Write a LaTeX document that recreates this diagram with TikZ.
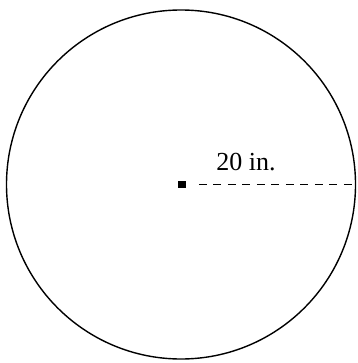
\documentclass[tikz,border=0pt]{standalone}
\usepackage{fontspec}
\setmainfont{Liberation Serif}
\begin{document}
\begin{tikzpicture}[x=1pt,y=-1pt,
  rim/.style={draw=black,line width=1.4pt},
  centerdot/.style={fill=black,minimum size=7.5pt,inner sep=0pt},
  radius line/.style={line width=1.8pt,dash pattern=on 8pt off 6.5pt},
  lbl/.style={font=\fontsize{26}{30}\selectfont,inner sep=0pt}]
\useasboundingbox (0,0) rectangle (357,363);
\coordinate (c) at (181,184.5);
\draw[rim] (c) circle[radius=174.5];
\node[centerdot] (dot) at (182,184.5) {};
\coordinate (edge) at (355.5,184.5);
\draw[radius line,shorten <=13pt] (dot.east) -- (edge);
\node[lbl] (label) at (246,162.5) {20 in.};
\end{tikzpicture}
\end{document}
